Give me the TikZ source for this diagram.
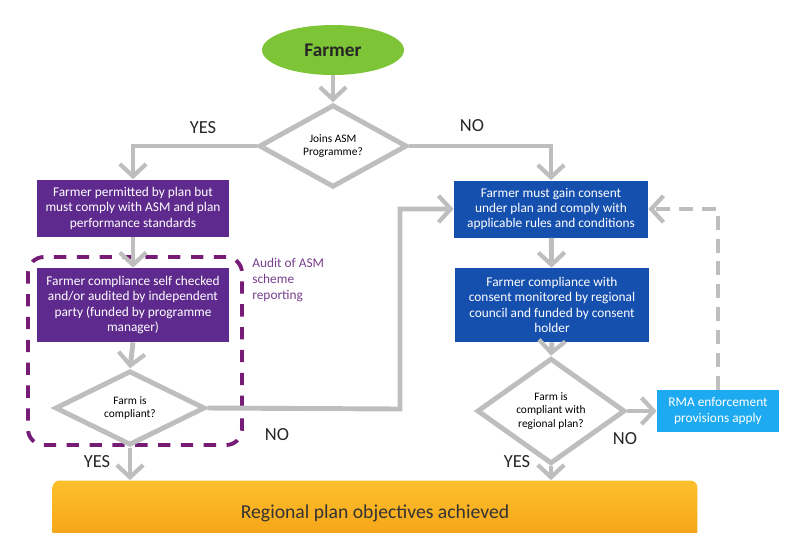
\documentclass[tikz,border=0pt]{standalone}
\usepackage{fontspec}
\setmainfont{Carlito}
\usepackage{xcolor}
\usetikzlibrary{shapes,arrows,positioning,calc,arrows.meta}

\definecolor{flowgray}{RGB}{190,190,190}
\definecolor{farmgreen}{RGB}{125,196,54}
\definecolor{asmpurple}{RGB}{95,42,142}
\definecolor{consentblue}{RGB}{22,80,175}
\definecolor{rmablue}{RGB}{30,170,240}
\definecolor{auditpurple}{RGB}{118,28,118}
\definecolor{audittext}{RGB}{120,62,140}
\definecolor{goaltop}{RGB}{252,192,45}
\definecolor{goalbottom}{RGB}{245,160,20}

\tikzset{
    flow/.style={draw=flowgray, line width=2.8pt, -{Straight Barb[length=7pt,width=15pt,line width=2.4pt]}},
    decision/.style={diamond, draw=flowgray, line width=2.8pt, fill=white, inner sep=0pt, align=center, font=\fontsize{6.5}{7.5}\selectfont},
    asmbox/.style={rectangle, fill=asmpurple, text=white, align=center, minimum width=3.84cm, font=\fontsize{7.6}{8.8}\selectfont},
    consentbox/.style={rectangle, fill=consentblue, text=white, align=center, minimum width=3.88cm, font=\fontsize{7.6}{8.8}\selectfont},
    answer/.style={font=\fontsize{10.5}{12}\selectfont, text=black!85}
}

\begin{document}
\begin{tikzpicture}[x=0.02cm, y=-0.02cm]
    \useasboundingbox (0,0) rectangle (795,532);

    \node (auditframe) at (135,351) [draw=auditpurple, line width=2.2pt, dash pattern=on 7pt off 6pt, rounded corners=9pt, minimum width=4.28cm, minimum height=3.76cm] {};
    \node (audittext) at (252,280) [anchor=west, align=left, inner sep=0pt, text=audittext, font=\fontsize{7.6}{9}\selectfont] {Audit of ASM\\scheme\\reporting};

    \node (farmer) at (333,50) [ellipse, fill=farmgreen, minimum width=2.84cm, minimum height=1.0cm, font=\fontsize{11}{13}\selectfont\bfseries, text=black!85] {Farmer};
    \node (joins) at (333,146) [decision, minimum width=2.96cm, minimum height=1.48cm] {Joins ASM\\Programme?};

    \node (permit) at (133,208) [asmbox, minimum height=1.14cm] {Farmer permitted by plan but\\must comply with ASM and plan\\performance standards};
    \node (selfcheck) at (133,305) [asmbox, minimum height=1.48cm] {Farmer compliance self checked\\and/or audited by independent\\party (funded by programme\\manager)};
    \node (compliant) at (130,408) [decision, minimum width=3.0cm, minimum height=1.4cm] {Farm is\\compliant?};

    \node (consent) at (551,209) [consentbox, minimum height=1.14cm] {Farmer must gain consent\\under plan and comply with\\applicable rules and conditions};
    \node (monitor) at (552,305) [consentbox, minimum height=1.48cm] {Farmer compliance with\\consent monitored by regional\\council and funded by consent\\holder};
    \node (regcompliant) at (551,411) [decision, minimum width=2.96cm, minimum height=1.44cm] {Farm is\\compliant with\\regional plan?};
    \node (rma) at (718,411) [rectangle, fill=rmablue, text=white, align=center, minimum width=2.44cm, minimum height=0.84cm, font=\fontsize{7.6}{8.8}\selectfont] {RMA enforcement\\provisions apply};

    \node (objectives) at (375,513) [rectangle, rounded corners=4pt, top color=goaltop, bottom color=goalbottom, minimum width=12.9cm, minimum height=1.3cm, font=\fontsize{11.2}{13}\selectfont, text=black!80] {Regional plan objectives achieved};

    \coordinate (bendno) at (400,409);

    \draw[flow] (farmer.south) -- (joins.north);
    \draw[flow] (joins.west) -| (permit.north);
    \draw[flow] (joins.east) -| (consent.north);
    \draw[flow] (permit) -- (selfcheck);
    \draw[flow] (selfcheck.south) -- (compliant.north);
    \draw[flow] (compliant.east) -- (bendno) |- (consent.west);
    \draw[flow] (compliant.south) -- (compliant.south |- objectives.north);
    \draw[flow] (consent) -- (monitor);
    \draw[flow] (monitor.south) -- (regcompliant.north);
    \draw[flow] (regcompliant.east) -- (rma.west);
    \draw[flow, dash pattern=on 8pt off 5pt] (rma.north) |- (consent.east);
    \draw[flow] (regcompliant.south) -- (regcompliant.south |- objectives.north);

    \node (yesjoin) at (203,128) [answer] {YES};
    \node (nojoin) at (472,126) [answer] {NO};
    \node (nocomp) at (277,435) [answer] {NO};
    \node (yescomp) at (97,462) [answer] {YES};
    \node (yesreg) at (517,462) [answer] {YES};
    \node (noreg) at (625,439) [answer] {NO};
\end{tikzpicture}
\end{document}
